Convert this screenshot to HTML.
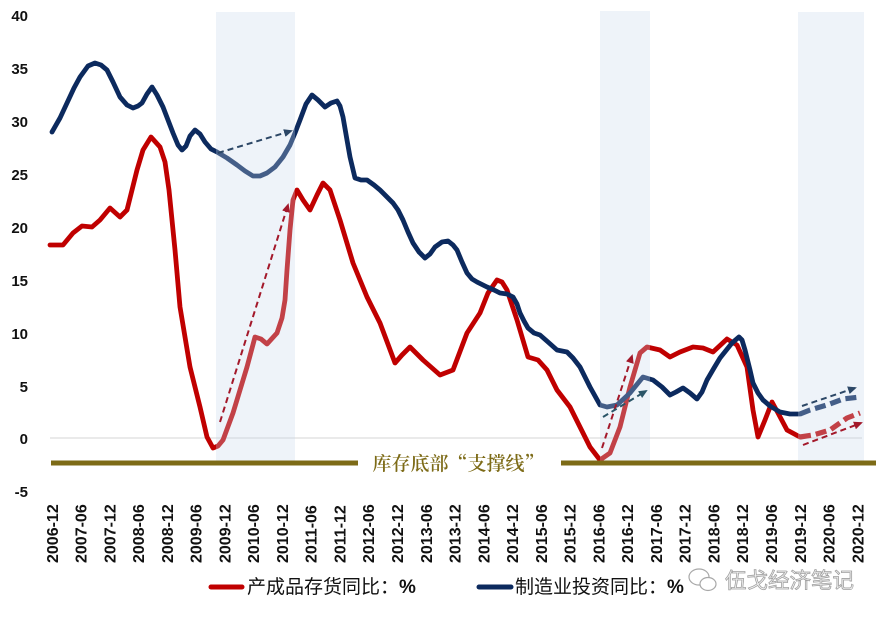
<!DOCTYPE html>
<html>
<head>
<meta charset="utf-8">
<style>
html,body{margin:0;padding:0;background:#fff;}
svg{display:block;}
.yl{font-family:"Liberation Sans",sans-serif;font-weight:bold;font-size:15px;fill:#111;}
.xl{font-family:"Liberation Sans",sans-serif;font-weight:bold;font-size:16px;fill:#111;}
.lg{font-family:"Noto Sans CJK SC","Liberation Sans",sans-serif;font-size:19px;fill:#111;}
</style>
</head>
<body>
<svg width="883" height="617" viewBox="0 0 883 617" xmlns="http://www.w3.org/2000/svg">
<rect width="883" height="617" fill="#fff"/>

<!-- zero gridline -->
<line x1="50" y1="438" x2="862" y2="438" stroke="#d4d4d4" stroke-width="1"/>

<!-- red series -->
<polyline fill="none" stroke="#c00000" stroke-width="4.8" stroke-linejoin="round" stroke-linecap="round"
points="50,245 63,245 73,233 82,226 92,227 100,220 110,208 120,217 127,210 137,170 143,150 151,137 160,147 165,162 169,190 172,220 175,250 180,307 190,367 200,407 207,437 213,448 218,446 223,440 233,413 247,367 255,337 261,339 267,344 277,333 282,318 285,300 287,270 290,230 293,200 297,190 303,200 310,210 317,195 323,183 330,190 340,220 353,263 367,297 380,323 395,363 402,355 410,347 423,360 440,375 453,370 467,333 480,313 488,293 497,280 502,282 507,290 517,320 528,357 538,360 547,370 557,390 570,407 580,427 590,447 600,460 610,453 620,427 630,387 640,353 647,347 660,350 670,357 680,352 693,347 703,348 713,352 727,339 737,345 747,367 753,410 758,437 765,420 772,402 778,413 787,430 800,437"/>
<polyline fill="none" stroke="#c00000" stroke-width="5.2" stroke-linejoin="round" stroke-dasharray="11,5"
points="800,437 813,435 830,430 847,418 860,413"/>

<!-- blue series -->
<polyline fill="none" stroke="#0c2a5e" stroke-width="4.8" stroke-linejoin="round" stroke-linecap="round"
points="52,132 60,118 67,103 74,88 80,77 88,66 95,63 101,65 107,70 113,82 120,97 127,105 133,108 138,106 142,103 147,94 152,87 157,95 163,107 168,120 173,133 178,145 182,150 186,146 190,136 195,130 200,134 205,142 211,149 217,152 227,158 237,165 245,171 253,176 260,176 267,173 275,167 283,157 290,145 295,133 300,120 306,104 312,95 318,100 325,107 331,103 337,101 340,106 343,117 347,140 350,157 355,178 361,180 367,180 374,185 380,190 393,203 398,210 403,220 408,232 413,243 419,252 425,258 430,254 435,247 442,242 448,241 453,245 457,250 462,262 467,273 472,279 477,282 487,287 494,290 500,293 507,294 513,297 517,304 520,313 524,321 528,328 534,333 540,335 548,342 557,350 567,352 573,358 580,367 590,387 600,405 607,407 617,405 630,393 643,377 653,380 662,387 670,395 676,392 683,388 690,393 697,399 702,392 707,380 714,368 720,358 732,343 739,337 742,340 745,350 750,370 753,383 758,393 763,400 770,406 780,412 790,414 800,414"/>
<polyline fill="none" stroke="#0c2a5e" stroke-width="5.2" stroke-linejoin="round" stroke-dasharray="11,5"
points="800,414 810,410 827,405 843,399 860,397"/>

<!-- shaded bands (overlay) -->
<rect x="216" y="12" width="79" height="450" fill="#c8d8ec" fill-opacity="0.3"/>
<rect x="600" y="11" width="50" height="451" fill="#c8d8ec" fill-opacity="0.3"/>
<rect x="798" y="12" width="66" height="450" fill="#c8d8ec" fill-opacity="0.3"/>

<!-- dashed arrows -->
<defs>
<marker id="ab" markerWidth="10" markerHeight="10" refX="7" refY="4" orient="auto" markerUnits="userSpaceOnUse">
<path d="M0,0 L9,4 L0,8 Z" fill="#2c4766"/>
</marker>
<marker id="ar" markerWidth="10" markerHeight="10" refX="7" refY="4" orient="auto" markerUnits="userSpaceOnUse">
<path d="M0,0 L9,4 L0,8 Z" fill="#a3182a"/>
</marker>
<marker id="at" markerWidth="10" markerHeight="10" refX="7" refY="4" orient="auto" markerUnits="userSpaceOnUse">
<path d="M0,0 L9,4 L0,8 Z" fill="#2b5568"/>
</marker>
</defs>
<line x1="218" y1="153" x2="291" y2="131" stroke="#2c4766" stroke-width="2" stroke-dasharray="6,4" marker-end="url(#ab)"/>
<line x1="220" y1="422" x2="288" y2="205" stroke="#a3182a" stroke-width="2" stroke-dasharray="6,4" marker-end="url(#ar)"/>
<line x1="602" y1="448" x2="632" y2="356" stroke="#a3182a" stroke-width="2" stroke-dasharray="6,4" marker-end="url(#ar)"/>
<line x1="603" y1="417" x2="646" y2="391" stroke="#2b5568" stroke-width="2" stroke-dasharray="6,4" marker-end="url(#at)"/>
<line x1="802" y1="406" x2="855" y2="388" stroke="#2c4766" stroke-width="2" stroke-dasharray="6,4" marker-end="url(#ab)"/>
<line x1="803" y1="445" x2="861" y2="423" stroke="#a3182a" stroke-width="2" stroke-dasharray="6,4" marker-end="url(#ar)"/>

<!-- gold support line -->
<line x1="51" y1="463" x2="358" y2="463" stroke="#7d6b17" stroke-width="5"/>
<line x1="561" y1="463" x2="876" y2="463" stroke="#7d6b17" stroke-width="5"/>
<text x="458" y="470" text-anchor="middle" font-family="'Noto Serif CJK SC','Liberation Serif',serif" font-size="19" font-weight="600" fill="#7d6b17">库存底部“支撑线”</text>

<!-- y axis labels -->
<text class="yl" x="28" y="21" text-anchor="end">40</text>
<text class="yl" x="28" y="74" text-anchor="end">35</text>
<text class="yl" x="28" y="127" text-anchor="end">30</text>
<text class="yl" x="28" y="180" text-anchor="end">25</text>
<text class="yl" x="28" y="233" text-anchor="end">20</text>
<text class="yl" x="28" y="286" text-anchor="end">15</text>
<text class="yl" x="28" y="339" text-anchor="end">10</text>
<text class="yl" x="28" y="392" text-anchor="end">5</text>
<text class="yl" x="28" y="444" text-anchor="end">0</text>
<text class="yl" x="28" y="497" text-anchor="end">-5</text>

<!-- x axis labels -->
<text class="xl" transform="translate(57.8,563) rotate(-90)">2006-12</text>
<text class="xl" transform="translate(86.5,563) rotate(-90)">2007-06</text>
<text class="xl" transform="translate(115.3,563) rotate(-90)">2007-12</text>
<text class="xl" transform="translate(144.1,563) rotate(-90)">2008-06</text>
<text class="xl" transform="translate(172.8,563) rotate(-90)">2008-12</text>
<text class="xl" transform="translate(201.6,563) rotate(-90)">2009-06</text>
<text class="xl" transform="translate(230.4,563) rotate(-90)">2009-12</text>
<text class="xl" transform="translate(259.1,563) rotate(-90)">2010-06</text>
<text class="xl" transform="translate(287.9,563) rotate(-90)">2010-12</text>
<text class="xl" transform="translate(316.7,563) rotate(-90)">2011-06</text>
<text class="xl" transform="translate(345.5,563) rotate(-90)">2011-12</text>
<text class="xl" transform="translate(374.2,563) rotate(-90)">2012-06</text>
<text class="xl" transform="translate(403.0,563) rotate(-90)">2012-12</text>
<text class="xl" transform="translate(431.8,563) rotate(-90)">2013-06</text>
<text class="xl" transform="translate(460.5,563) rotate(-90)">2013-12</text>
<text class="xl" transform="translate(489.3,563) rotate(-90)">2014-06</text>
<text class="xl" transform="translate(518.1,563) rotate(-90)">2014-12</text>
<text class="xl" transform="translate(546.8,563) rotate(-90)">2015-06</text>
<text class="xl" transform="translate(575.6,563) rotate(-90)">2015-12</text>
<text class="xl" transform="translate(604.4,563) rotate(-90)">2016-06</text>
<text class="xl" transform="translate(633.2,563) rotate(-90)">2016-12</text>
<text class="xl" transform="translate(661.9,563) rotate(-90)">2017-06</text>
<text class="xl" transform="translate(690.7,563) rotate(-90)">2017-12</text>
<text class="xl" transform="translate(719.5,563) rotate(-90)">2018-06</text>
<text class="xl" transform="translate(748.2,563) rotate(-90)">2018-12</text>
<text class="xl" transform="translate(777.0,563) rotate(-90)">2019-06</text>
<text class="xl" transform="translate(805.8,563) rotate(-90)">2019-12</text>
<text class="xl" transform="translate(834.5,563) rotate(-90)">2020-06</text>
<text class="xl" transform="translate(863.3,563) rotate(-90)">2020-12</text>

<!-- legend -->
<line x1="211" y1="587" x2="242" y2="587" stroke="#c00000" stroke-width="5" stroke-linecap="round"/>
<text class="lg" x="247" y="593">产成品存货同比：<tspan font-family="Liberation Sans, sans-serif" font-weight="bold">%</tspan></text>
<line x1="479" y1="587" x2="511" y2="587" stroke="#0c2a5e" stroke-width="5" stroke-linecap="round"/>
<text class="lg" x="515" y="593">制造业投资同比：<tspan font-family="Liberation Sans, sans-serif" font-weight="bold">%</tspan></text>

<!-- watermark -->
<g fill="none" stroke="#a8a8a8" stroke-width="1.2">
<ellipse cx="699" cy="577" rx="10" ry="8"/>
<ellipse cx="708" cy="584" rx="8" ry="6.5" fill="#fff"/>
</g>
<text x="725" y="588" font-family="'Noto Sans CJK SC','Liberation Sans',sans-serif" font-size="21.5" fill="#f4f4f4" stroke="#a0a0a0" stroke-width="0.8">伍戈经济笔记</text>
</svg>
</body>
</html>
